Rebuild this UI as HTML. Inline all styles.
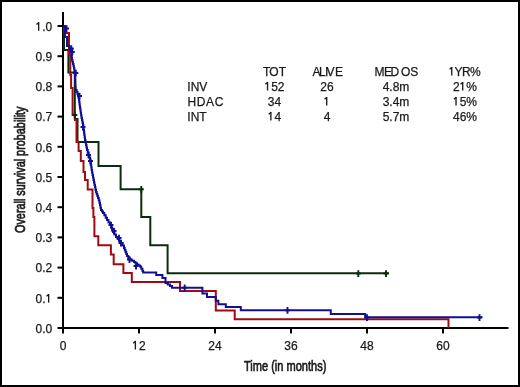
<!DOCTYPE html>
<html><head><meta charset="utf-8"><style>
html,body{margin:0;padding:0;background:#fff}
svg{display:block;will-change:transform}
text{font-family:"Liberation Sans",sans-serif;font-size:12px;fill:#1a1a1a;stroke:#1a1a1a;stroke-width:0.25}
.o{fill-opacity:0;stroke-opacity:0}
</style></head><body>
<svg width="520" height="387" viewBox="0 0 520 387">
<rect x="0" y="0" width="520" height="387" fill="#fff"/>
<rect x="1" y="1" width="518" height="385" fill="none" stroke="#000" stroke-width="2"/>
<rect x="57.5" y="25" width="5" height="2" fill="#000"/><text x="52.3" y="30.8" text-anchor="end"><tspan class="o">1</tspan>.0</text><rect x="57.5" y="55.2" width="5" height="2" fill="#000"/><text x="52.3" y="61" text-anchor="end">0.9</text><rect x="57.5" y="85.4" width="5" height="2" fill="#000"/><text x="52.3" y="91.2" text-anchor="end">0.8</text><rect x="57.5" y="115.6" width="5" height="2" fill="#000"/><text x="52.3" y="121.4" text-anchor="end">0.7</text><rect x="57.5" y="145.8" width="5" height="2" fill="#000"/><text x="52.3" y="151.6" text-anchor="end">0.6</text><rect x="57.5" y="176" width="5" height="2" fill="#000"/><text x="52.3" y="181.8" text-anchor="end">0.5</text><rect x="57.5" y="206.2" width="5" height="2" fill="#000"/><text x="52.3" y="212" text-anchor="end">0.4</text><rect x="57.5" y="236.4" width="5" height="2" fill="#000"/><text x="52.3" y="242.2" text-anchor="end">0.3</text><rect x="57.5" y="266.6" width="5" height="2" fill="#000"/><text x="52.3" y="272.4" text-anchor="end">0.2</text><rect x="57.5" y="296.8" width="5" height="2" fill="#000"/><text x="52.3" y="302.6" text-anchor="end">0.<tspan class="o">1</tspan></text><rect x="57.5" y="327" width="5" height="2" fill="#000"/><text x="52.3" y="332.8" text-anchor="end">0.0</text>
<rect x="62" y="329" width="2" height="4.5" fill="#000"/><text x="63" y="349.5" text-anchor="middle">0</text><rect x="138" y="329" width="2" height="4.5" fill="#000"/><text x="139" y="349.5" text-anchor="middle"><tspan class="o">1</tspan>2</text><rect x="214" y="329" width="2" height="4.5" fill="#000"/><text x="215" y="349.5" text-anchor="middle">24</text><rect x="290" y="329" width="2" height="4.5" fill="#000"/><text x="291" y="349.5" text-anchor="middle">36</text><rect x="366" y="329" width="2" height="4.5" fill="#000"/><text x="367" y="349.5" text-anchor="middle">48</text><rect x="442" y="329" width="2" height="4.5" fill="#000"/><text x="443" y="349.5" text-anchor="middle">60</text>
<rect x="62" y="12" width="2" height="317" fill="#000"/>
<rect x="62" y="327" width="446.5" height="2" fill="#000"/>
<g><polyline points="63,26 64,26 64,50 68.4,50 68.4,72.6 74.8,72.6 74.8,119 77.5,119 77.5,142 98.5,142 98.5,166 120.6,166 120.6,189.3 141.3,189.3 141.3,217 150.3,217 150.3,245.2 167.6,245.2 167.6,273.3 389,273.3" fill="none" stroke="#0b2c0b" stroke-width="2" stroke-linejoin="miter"/><polyline points="63,26 64.5,26 64.5,33 69,33 69,55 70.3,55 70.3,75 71.1,75 71.1,88 72.6,88 72.6,115 75,115 75,120 76.5,120 76.5,142 78.6,142 78.6,151 80.8,151 80.8,161 83.5,161 83.5,172 85,172 85,180 87.7,180 87.7,189.4 92.5,189.4 92.5,208 93.4,208 93.4,217 94.4,217 94.4,236.3 98.3,236.3 98.3,245.3 110.9,245.3 110.9,254.5 113.7,254.5 113.7,264.3 123.4,264.3 123.4,273.1 131.8,273.1 131.8,282 180,282 180,291 215.8,291 215.8,310.5 234.7,310.5 234.7,319.2 448.5,319.2 448.5,328" fill="none" stroke="#a00a10" stroke-width="2" stroke-linejoin="miter"/><polyline points="63,26 65,26 65,37 67,37 67,46 69.5,46 69.5,48 70.25,48 70.25,50 71,50 71,52 71.25,52 71.25,54 71.5,54 71.5,56 71.75,56 71.75,58 72,58 72,60 72.5,60 72.5,62 73,62 73,64 73.5,64 73.5,66 73.93,66 73.93,68.33 74.37,68.33 74.37,70.67 74.8,70.67 74.8,73 74.95,73 74.95,75.25 75.1,75.25 75.1,77.5 75.25,77.5 75.25,79.75 75.4,79.75 75.4,82 75.8,90 76.65,90 76.65,92 77.5,92 77.5,94 78,94 78,96 78.5,96 78.5,98 79,98 79,100 79.25,100 79.25,102 79.5,102 79.5,104 79.75,104 79.75,106 80,106 80,108 80.38,108 80.38,110.5 80.75,110.5 80.75,113 81.12,113 81.12,115.5 81.5,115.5 81.5,118 82,118 82,120.33 82.5,120.33 82.5,122.67 83,122.67 83,125 83.33,125 83.33,127.5 83.67,127.5 83.67,130 84,130 84,132.5 84.33,132.5 84.33,135 84.67,135 84.67,137.5 85,137.5 85,140 85.5,140 85.5,142.5 86,142.5 86,145 86.5,145 86.5,147.5 87,147.5 87,150 87.75,150 87.75,152.5 88.5,152.5 88.5,155 89.25,155 89.25,157.5 90,157.5 90,160 90.42,160 90.42,162.5 90.83,162.5 90.83,165 91.25,165 91.25,167.5 91.67,167.5 91.67,170 92.08,170 92.08,172.5 92.5,172.5 92.5,175 93,175 93,177.5 93.5,177.5 93.5,180 94,180 94,182.5 94.5,182.5 94.5,185 95,185 95,187.33 95.5,187.33 95.5,189.67 96,189.67 96,192 96.67,192 96.67,194 97.33,194 97.33,196 98,196 98,198 98.75,198 98.75,200.5 99.5,200.5 99.5,203 100,203 100,205.33 100.5,205.33 100.5,207.67 101,207.67 101,210 102,210 102,211.5 103,211.5 103,213 104.33,213 104.33,215.33 105.67,215.33 105.67,217.67 107,217.67 107,220 108.5,220 108.5,222.5 110,222.5 110,225 111,225 111,227.33 112,227.33 112,229.67 113,229.67 113,232 114.5,232 114.5,234.5 116,234.5 116,237 117.67,237 117.67,239 119.33,239 119.33,241 121,241 121,243 122.5,243 122.5,245.5 124,245.5 124,248 124.75,248 124.75,250 125.5,250 125.5,252 126.25,252 126.25,254 127,254 127,256 128.25,256 128.25,257.75 129.5,257.75 129.5,259.5 131.75,259.5 131.75,260.75 134,260.75 134,262 135.5,262 135.5,263.25 137,263.25 137,264.5 138.5,264.5 138.5,265.5 140,265.5 140,266.5 141.25,266.5 141.25,268.75 142.5,268.75 142.5,271 143.2,271 143.2,272.4 156.2,272.4 156.2,275 162.4,275 162.4,278 165.5,278 165.5,283 167.75,283 167.75,284.5 170,284.5 170,286 172,286 172,287.7 202.4,287.7 202.4,293.4 207,293.4 207,297 215.8,297 215.8,300.7 218.4,300.7 218.4,304.2 225.8,304.2 225.8,307 240.8,307 240.8,310.3 330.8,310.3 330.8,314 365.2,314 365.2,317.2 482.5,317.2" fill="none" stroke="#101094" stroke-width="2" stroke-linejoin="miter"/><path d="M74.8 111.8V118.4 M72.3 115H77.3" stroke="#0b2c0b" stroke-width="1.9" fill="none"/><path d="M141.3 186.1V192.7 M138.8 189.3H143.8" stroke="#0b2c0b" stroke-width="1.9" fill="none"/><path d="M358.3 270.3V276.9 M355.8 273.5H360.8" stroke="#0b2c0b" stroke-width="1.9" fill="none"/><path d="M386 270.3V276.9 M383.5 273.5H388.5" stroke="#0b2c0b" stroke-width="1.9" fill="none"/><path d="M66.5 25.3V31.9 M64 28.5H69" stroke="#101094" stroke-width="1.9" fill="none"/><path d="M71.3 45.3V51.9 M68.8 48.5H73.8" stroke="#101094" stroke-width="1.9" fill="none"/><path d="M72.3 48.8V55.4 M69.8 52H74.8" stroke="#101094" stroke-width="1.9" fill="none"/><path d="M75.8 69.8V76.4 M73.3 73H78.3" stroke="#101094" stroke-width="1.9" fill="none"/><path d="M79.5 92.8V99.4 M77 96H82" stroke="#101094" stroke-width="1.9" fill="none"/><path d="M83 123.8V130.4 M80.5 127H85.5" stroke="#101094" stroke-width="1.9" fill="none"/><path d="M88.5 151.8V158.4 M86 155H91" stroke="#101094" stroke-width="1.9" fill="none"/><path d="M90.5 157.8V164.4 M88 161H93" stroke="#101094" stroke-width="1.9" fill="none"/><path d="M111 221.8V228.4 M108.5 225H113.5" stroke="#101094" stroke-width="1.9" fill="none"/><path d="M114 227.8V234.4 M111.5 231H116.5" stroke="#101094" stroke-width="1.9" fill="none"/><path d="M119 234.8V241.4 M116.5 238H121.5" stroke="#101094" stroke-width="1.9" fill="none"/><path d="M121 239.8V246.4 M118.5 243H123.5" stroke="#101094" stroke-width="1.9" fill="none"/><path d="M129.5 256.3V262.9 M127 259.5H132" stroke="#101094" stroke-width="1.9" fill="none"/><path d="M136 262.8V269.4 M133.5 266H138.5" stroke="#101094" stroke-width="1.9" fill="none"/><path d="M184.7 284.5V291.1 M182.2 287.7H187.2" stroke="#101094" stroke-width="1.9" fill="none"/><path d="M287.5 307.1V313.7 M285 310.3H290" stroke="#101094" stroke-width="1.9" fill="none"/><path d="M367 314.3V320.9 M364.5 317.5H369.5" stroke="#101094" stroke-width="1.9" fill="none"/><path d="M479.5 314.3V320.9 M477 317.5H482" stroke="#101094" stroke-width="1.9" fill="none"/></g>
<text transform="translate(24.7,233) rotate(-90) scale(0.775,1)" style="font-size:14px;stroke-width:0.75">Overall survival probability</text>
<text transform="translate(244,371.3) scale(0.737,1)" style="font-size:15px;stroke-width:0.7">Time (in months)</text>
<g>
<text x="187.3" y="90.5">INV</text>
<text x="187.5" y="105.5" letter-spacing="0.6">HDAC</text>
<text x="187.3" y="120.5">INT</text>
<text x="263 269.2 278.8" y="75.5">TOT</text>
<text x="274.5" y="90.5" text-anchor="middle"><tspan class="o">1</tspan>52</text>
<text x="274.5" y="105.5" text-anchor="middle">34</text>
<text x="274.5" y="120.5" text-anchor="middle"><tspan class="o">1</tspan>4</text>
<text x="312.6 319 325.1 326.6 334.9" y="75.5">ALIVE</text>
<text x="327" y="90.5" text-anchor="middle">26</text>
<text x="327" y="105.5" text-anchor="middle"><tspan class="o">1</tspan></text>
<text x="327" y="120.5" text-anchor="middle">4</text>
<text x="374.5 384.1 390.5" y="75.5">MED</text><text x="401 410.3" y="75.5">OS</text>
<text x="396" y="90.5" text-anchor="middle">4.8m</text>
<text x="396" y="105.5" text-anchor="middle">3.4m</text>
<text x="396" y="120.5" text-anchor="middle">5.7m</text>
<text x="448.7 454.6 462.1 469.9" y="75.5"><tspan class="o">1</tspan>YR%</text>
<text x="465" y="90.5" text-anchor="middle">2<tspan class="o">1</tspan>%</text>
<text x="465" y="105.5" text-anchor="middle"><tspan class="o">1</tspan>5%</text>
<text x="465" y="120.5" text-anchor="middle">46%</text>
</g>
<g><path d="M38.65 22.20V30.80" stroke="#1a1a1a" stroke-width="1.35" fill="none"/><path d="M38.85 22.50L36.50 24.50" stroke="#1a1a1a" stroke-width="1.25" fill="none"/><path d="M48.66 294.00V302.60" stroke="#1a1a1a" stroke-width="1.35" fill="none"/><path d="M48.86 294.30L46.51 296.30" stroke="#1a1a1a" stroke-width="1.25" fill="none"/><path d="M135.36 340.90V349.50" stroke="#1a1a1a" stroke-width="1.35" fill="none"/><path d="M135.56 341.20L133.21 343.20" stroke="#1a1a1a" stroke-width="1.25" fill="none"/><path d="M267.53 81.90V90.50" stroke="#1a1a1a" stroke-width="1.35" fill="none"/><path d="M267.73 82.20L265.38 84.20" stroke="#1a1a1a" stroke-width="1.25" fill="none"/><path d="M270.86 111.90V120.50" stroke="#1a1a1a" stroke-width="1.35" fill="none"/><path d="M271.06 112.20L268.71 114.20" stroke="#1a1a1a" stroke-width="1.25" fill="none"/><path d="M326.71 96.90V105.50" stroke="#1a1a1a" stroke-width="1.35" fill="none"/><path d="M326.91 97.20L324.56 99.20" stroke="#1a1a1a" stroke-width="1.25" fill="none"/><path d="M451.75 66.90V75.50" stroke="#1a1a1a" stroke-width="1.35" fill="none"/><path d="M451.95 67.20L449.60 69.20" stroke="#1a1a1a" stroke-width="1.25" fill="none"/><path d="M462.71 81.90V90.50" stroke="#1a1a1a" stroke-width="1.35" fill="none"/><path d="M462.91 82.20L460.56 84.20" stroke="#1a1a1a" stroke-width="1.25" fill="none"/><path d="M456.03 96.90V105.50" stroke="#1a1a1a" stroke-width="1.35" fill="none"/><path d="M456.23 97.20L453.88 99.20" stroke="#1a1a1a" stroke-width="1.25" fill="none"/></g>
</svg>
</body></html>
